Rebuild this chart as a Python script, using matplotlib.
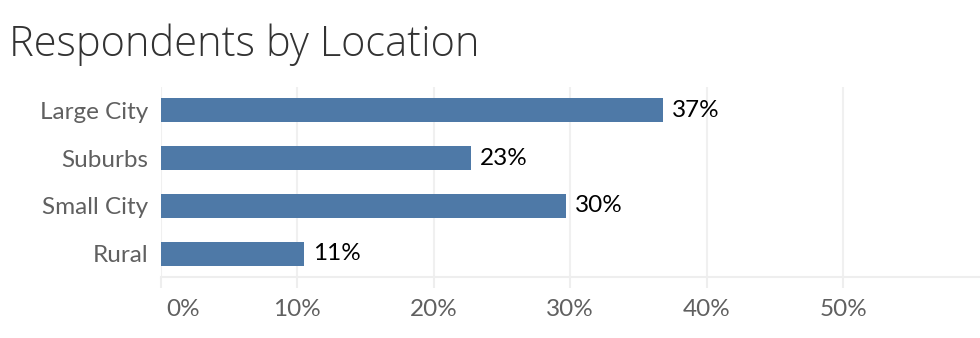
import matplotlib.pyplot as plt
import matplotlib.transforms as mtransforms

plt.rcParams['font.family'] = ['Lato', 'DejaVu Sans']

categories = ["Large City", "Suburbs", "Small City", "Rural"]
shares = [36.8, 22.7, 29.7, 10.5]
share_labels = ["37%", "23%", "30%", "11%"]
x_ticks = [0, 10, 20, 30, 40, 50]
x_tick_labels = ["0%", "10%", "20%", "30%", "40%", "50%"]

fig = plt.figure(figsize=(9.8, 3.38), dpi=100)
ax = fig.add_axes([160.5 / 980, 1 - 277 / 338, 1 - 160.5 / 980, 190 / 338])

ypos = list(range(len(categories)))
ax.barh(ypos, shares, height=0.5, color="#4e79a7", zorder=2)
for y, v, lab in zip(ypos, shares, share_labels):
    ax.annotate(lab, (v, y), xytext=(6.5, 0), textcoords="offset points",
                va="center", ha="left", fontsize=17.5, color="#000000")

ax.set_xlim(0, 60)
ax.set_ylim(3.48, -0.48)
ax.set_yticks(ypos)
ax.set_yticklabels(categories, fontsize=17.5, color="#606060")
ax.set_xticks(x_ticks)
ax.set_xticklabels(x_tick_labels, fontsize=17.5, color="#606060")
ax.tick_params(axis="y", length=0, pad=9)
ax.tick_params(axis="x", length=8, width=1.5, color="#eeeeee", pad=8)

# first tick label sits to the right of its tick
first = ax.get_xticklabels()[0]
first.set_transform(first.get_transform() + mtransforms.ScaledTranslation(16 / 72, 0, fig.dpi_scale_trans))

ax.grid(axis="x", color="#f0f0f0", linewidth=1.5, zorder=0)
for s in ["top", "right", "left"]:
    ax.spines[s].set_visible(False)
ax.spines["bottom"].set_color("#eeeeee")
ax.spines["bottom"].set_linewidth(1.5)

fig.text(9 / 980, 1 - 56 / 338, "Respondents by Location", fontsize=30,
         family=["Open Sans", "DejaVu Sans"], fontweight="light",
         color="#333333", ha="left", va="baseline")

fig.savefig("out.png", dpi=100)
